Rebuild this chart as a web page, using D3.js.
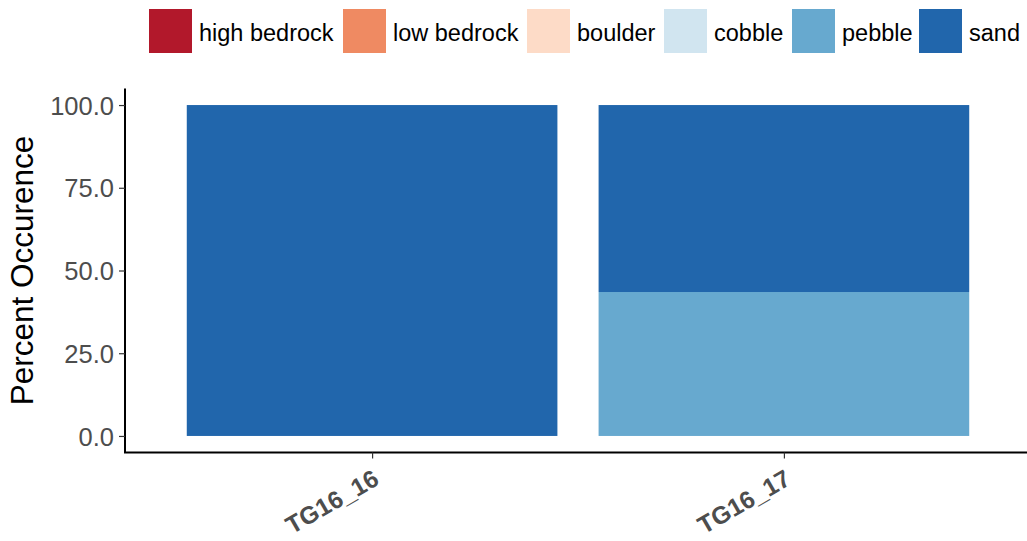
<!DOCTYPE html>
<html>
<head>
<meta charset="utf-8">
<script src="https://cdn.jsdelivr.net/npm/d3@7"></script>
<style>
  html, body { margin: 0; padding: 0; background: #fff; }
  svg { display: block; font-family: "Liberation Sans", Arial, sans-serif; }
</style>
</head>
<body>
<svg id="chart" width="1027" height="541"></svg>
<script>
// ---- data ----
const categories = ["TG16_16", "TG16_17"];
const substrates = ["high bedrock", "low bedrock", "boulder", "cobble", "pebble", "sand"];
const colors = ["#B2182B", "#EF8A62", "#FDDBC7", "#D1E5F0", "#67A9CF", "#2166AC"];
const highBedrock = [0, 0];
const lowBedrock = [0, 0];
const boulder = [0, 0];
const cobble = [0, 0];
const pebble = [0, 43.5];
const sand = [100, 56.5];
const yTicks = [0, 25, 50, 75, 100];

(function () {
const seriesValues = [highBedrock, lowBedrock, boulder, cobble, pebble, sand];
const rows = categories.map((c, i) => {
  const r = { cat: c };
  substrates.forEach((s, j) => r[s] = seriesValues[j][i]);
  return r;
});
// last level (sand) ends up on top
const stack = d3.stack().keys(substrates)(rows);

const svg = d3.select("#chart");
const mLeft = 125, mRight = 1031, mTop = 88.5, mBottom = 452.5;

// ggplot-like discrete scale: expansion 0.6 units each side, bar width 0.9
const unit = (mRight - mLeft) / (categories.length - 1 + 1.2);
const xc = d3.scalePoint().domain(categories).range([mLeft + 0.6 * unit, mRight - 0.6 * unit]);
const barW = 0.9 * unit;

const y = d3.scaleLinear().domain([-5, 105]).range([mBottom, mTop]);
const color = d3.scaleOrdinal().domain(substrates).range(colors);

// bars
svg.append("g").selectAll("g").data(stack).join("g")
  .attr("fill", d => color(d.key))
  .selectAll("rect").data(d => d).join("rect")
  .attr("x", d => xc(d.data.cat) - barW / 2)
  .attr("width", barW)
  .attr("y", d => y(d[1]))
  .attr("height", d => Math.max(0, y(d[0]) - y(d[1])));

// y axis
const yAxis = svg.append("g").attr("transform", `translate(${mLeft},0)`)
  .call(d3.axisLeft(y).tickValues(yTicks).tickFormat(d3.format(".1f")).tickSize(6).tickPadding(5));
yAxis.select(".domain").attr("stroke", "#000").attr("stroke-width", 2)
  .attr("d", `M0,${mTop}V${mBottom}`);
yAxis.selectAll(".tick line").attr("stroke", "#333").attr("stroke-width", 1.2);
yAxis.selectAll(".tick text").attr("fill", "#4D4D4D").attr("font-size", 25.5)
  .attr("font-family", "Liberation Sans, Arial, sans-serif").attr("dy", "0.36em");

// x axis
const xAxis = svg.append("g").attr("transform", `translate(0,${mBottom})`)
  .call(d3.axisBottom(xc).tickSize(6).tickPadding(0));
xAxis.select(".domain").attr("stroke", "#000").attr("stroke-width", 2)
  .attr("d", `M${mLeft - 1},0H${1027}`);
xAxis.selectAll(".tick line").attr("stroke", "#333").attr("stroke-width", 1.2);
xAxis.selectAll(".tick text")
  .attr("fill", "#4D4D4D").attr("font-size", 24.5).attr("font-weight", "bold")
  .attr("font-family", "Liberation Sans, Arial, sans-serif")
  .attr("text-anchor", "end")
  .attr("dy", null).attr("y", null)
  .attr("transform", "translate(8,31) rotate(-30)");

// y title
svg.append("text")
  .attr("transform", `translate(33,${(mTop + mBottom) / 2}) rotate(-90)`)
  .attr("text-anchor", "middle")
  .attr("font-size", 31.5)
  .attr("fill", "#000")
  .text("Percent Occurence");

// legend
const legendX = [149, 343, 527, 664, 792, 919];
const lg = svg.append("g").selectAll("g").data(substrates).join("g")
  .attr("transform", (d, i) => `translate(${legendX[i]},9)`);
lg.append("rect").attr("width", 43).attr("height", 44).attr("fill", d => color(d));
lg.append("text").attr("x", 50).attr("y", 31.5).attr("font-size", 23.5).attr("fill", "#000")
  .text(d => d);
})();
</script>
</body>
</html>
